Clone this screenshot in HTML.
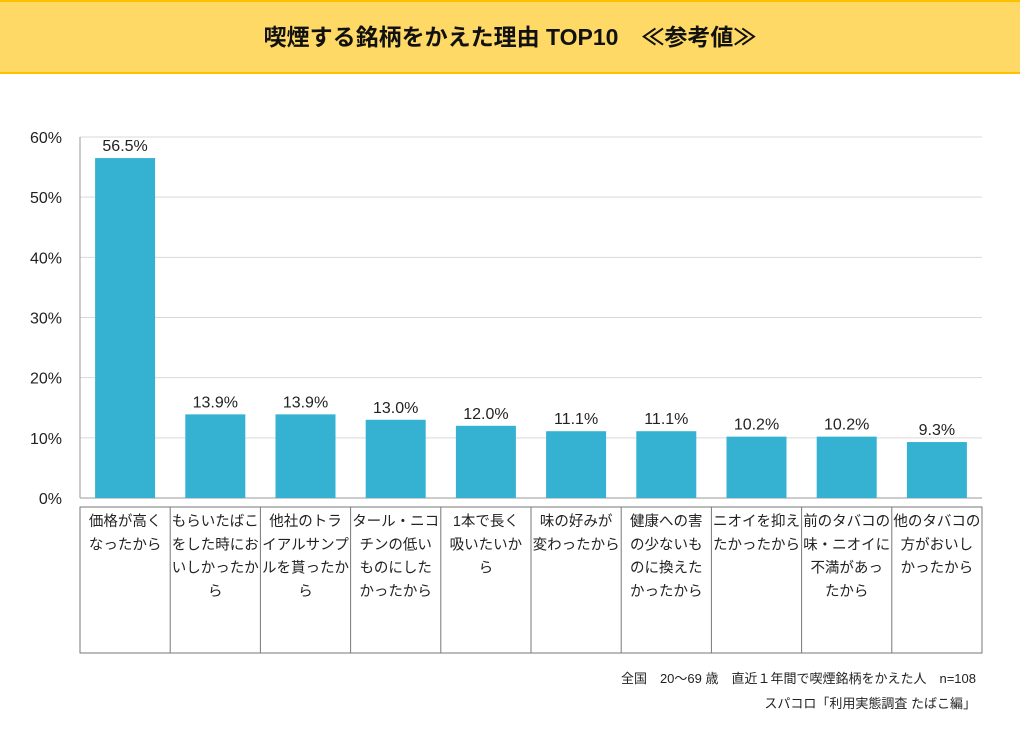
<!DOCTYPE html>
<html><head><meta charset="utf-8"><style>
body{margin:0;width:1020px;height:732px;background:#fff;overflow:hidden;font-family:"Liberation Sans","Noto Sans CJK JP",sans-serif;}
#hdr{position:absolute;left:0;top:0;width:1020px;height:70px;background:#FFD966;border-top:2px solid #FFC000;border-bottom:2px solid #FFC000;}
#title{position:absolute;left:0;top:0;width:1020px;line-height:70px;text-align:center;font-size:23px;font-weight:bold;color:#111;}
.foot{position:absolute;right:44px;font-size:13px;color:#222;}
</style></head><body>
<div id="hdr"><div id="title">喫煙する銘柄をかえた理由 TOP10　≪参考値≫</div></div>
<svg id="chart" width="1020" height="732" style="position:absolute;left:0;top:0"></svg>
<div class="foot" style="top:668px">全国　20～69 歳　直近１年間で喫煙銘柄をかえた人　n=108</div>
<div class="foot" style="top:693px">スパコロ「利用実態調査 たばこ編」</div>
<script>
const categories=[["価格が高く","なったから"],["もらいたばこ","をした時にお","いしかったか","ら"],["他社のトラ","イアルサンプ","ルを貰ったか","ら"],["タール・ニコ","チンの低い","ものにした","かったから"],["1本で長く","吸いたいか","ら"],["味の好みが","変わったから"],["健康への害","の少ないも","のに換えた","かったから"],["ニオイを抑え","たかったから"],["前のタバコの","味・ニオイに","不満があっ","たから"],["他のタバコの","方がおいし","かったから"]];
const values=[56.5,13.9,13.9,13.0,12.0,11.1,11.1,10.2,10.2,9.3];
const ticks=[0,10,20,30,40,50,60];
const NS="http://www.w3.org/2000/svg";
const svg=document.getElementById('chart');
const L=80,R=982,T=137,B=498,TB=653,TT=507;
const y=v=>B-(v/60)*(B-T);
const cw=(R-L)/categories.length;
const x=i=>L+i*cw;
function mk(t,a){const e=document.createElementNS(NS,t);for(const k in a)e.setAttribute(k,a[k]);svg.appendChild(e);return e;}
ticks.forEach(t=>{
 if(t>0){const g=mk('line',{x1:L,x2:R,y1:y(t),y2:y(t),stroke:'#d9d9d9','stroke-width':1});
 
 }
 const tl=mk('text',{x:62,y:y(t)+6,'text-anchor':'end','font-size':16,fill:'#222'});tl.textContent=t+'%';
 
 
});
const ax=mk('line',{x1:L,x2:L,y1:T,y2:B,stroke:'#999'});


const bx=mk('line',{x1:L,x2:R,y1:B,y2:B,stroke:'#999'});


const tb=mk('rect',{x:L,y:TT,width:R-L,height:TB-TT,fill:'none',stroke:'#777'});


values.forEach((v,i)=>{
 const cx=x(i)+cw/2;
 const b=mk('rect',{x:cx-30,y:y(v),width:60,height:B-y(v),fill:'#35B2D1'});
 
 
 const lb=mk('text',{x:cx,y:y(v)-7,'text-anchor':'middle','font-size':16,fill:'#222'});lb.textContent=v.toFixed(1)+'%';
 
 
 if(i>0){const d=mk('line',{x1:x(i),x2:x(i),y1:TT,y2:TB,stroke:'#777'});
 
 }
 categories[i].forEach((s,j)=>{
  const t=mk('text',{x:cx,y:TT+19+j*23.3,'text-anchor':'middle','font-size':14.5,fill:'#222'});t.textContent=s;
  
  
 });
});
</script>
</body></html>
